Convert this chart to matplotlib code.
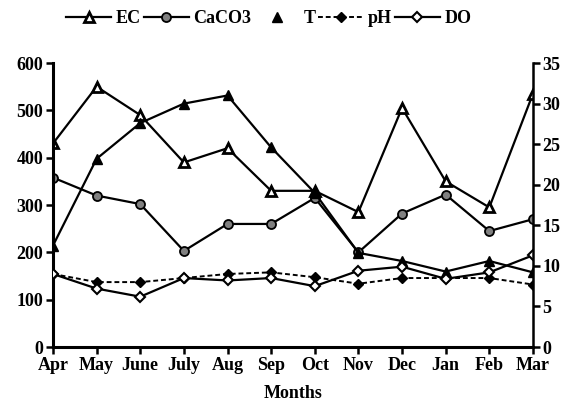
import numpy as np
import matplotlib
matplotlib.use("Agg")
import matplotlib.pyplot as plt
from matplotlib.lines import Line2D

months = ["Apr", "May", "June", "July", "Aug", "Sep", "Oct", "Nov", "Dec", "Jan", "Feb", "Mar"]

# left axis
ec = [430, 550, 490, 390, 420, 330, 330, 285, 505, 350, 295, 535]
caco3 = [358, 320, 302, 203, 260, 260, 315, 200, 282, 322, 245, 270]

# right axis
temp = [12.5, 23.2, 27.6, 30.0, 31.0, 24.6, 19.0, 11.6, 10.6, 9.3, 10.6, 9.2]
ph = [9.0, 8.0, 8.0, 8.5, 9.0, 9.2, 8.6, 7.8, 8.5, 8.5, 8.5, 7.7]
do = [9.0, 7.2, 6.2, 8.5, 8.2, 8.5, 7.5, 9.4, 9.9, 8.4, 9.2, 11.3]

plt.rcParams['font.family'] = 'Liberation Serif'
plt.rcParams['font.weight'] = 'bold'
plt.rcParams['axes.labelweight'] = 'bold'
plt.rcParams['font.size'] = 13

fig = plt.figure(figsize=(5.66, 4.08), dpi=100)
ax = fig.add_axes([0.0936, 0.1495, 0.848, 0.696])
ax2 = ax.twinx()

x = np.arange(len(months))

ax.plot(x, ec, color="k", lw=1.6, marker="^", ms=7, mfc="white", mec="k", mew=2, label="EC")
ax.plot(x, caco3, color="k", lw=1.6, marker="o", ms=6.5, mfc="#808080", mec="k", mew=1.3, label="CaCO3")
ax2.plot(x, temp, color="k", lw=1.6, marker="^", ms=7, mfc="k", mec="k", label="T")
ax2.plot(x, ph, color="k", lw=1.4, ls=(0, (2.5, 1.5)), marker="D", ms=5, mfc="k", mec="k", label="pH")
ax2.plot(x, do, color="k", lw=1.6, marker="D", ms=5, mfc="white", mec="k", mew=1.5, label="DO")

ax.set_xlim(0, 11)
ax.set_ylim(0, 600)
ax2.set_ylim(0, 35)
ax.set_yticks(np.arange(0, 601, 100))
ax2.set_yticks(np.arange(0, 36, 5))
ax.set_xticks(x)
ax.set_xticklabels(months)
ax.set_xlabel("Months", labelpad=8, fontweight="bold")

for a in (ax, ax2):
    a.spines["top"].set_visible(False)
    a.tick_params(direction="out", width=1.8, length=5, pad=2)
ax.spines["left"].set_linewidth(2.2)
ax.spines["bottom"].set_linewidth(2.2)
ax2.spines["right"].set_linewidth(1.8)
ax2.spines["left"].set_visible(False)
ax2.spines["bottom"].set_visible(False)
ax.spines["right"].set_visible(False)

# legend: T shows only its marker
handles = [
    Line2D([], [], color="k", lw=1.6, marker="^", ms=7, mfc="white", mec="k", mew=2),
    Line2D([], [], color="k", lw=1.6, marker="o", ms=6.5, mfc="#808080", mec="k", mew=1.3),
    Line2D([], [], ls="none", marker="^", ms=7, mfc="k", mec="k"),
    Line2D([], [], color="k", lw=1.4, ls=(0, (2.5, 1.5)), marker="D", ms=5, mfc="k", mec="k"),
    Line2D([], [], color="k", lw=1.6, marker="D", ms=5, mfc="white", mec="k", mew=1.5),
]
labels = ["EC", "CaCO3", "T", "pH", "DO"]
fig.legend(handles, labels, loc="center", bbox_to_anchor=(0.475, 0.955), ncol=5,
           frameon=False, handlelength=2.5, handletextpad=0.25, columnspacing=0.15)

plt.savefig("out.png", dpi=100)
